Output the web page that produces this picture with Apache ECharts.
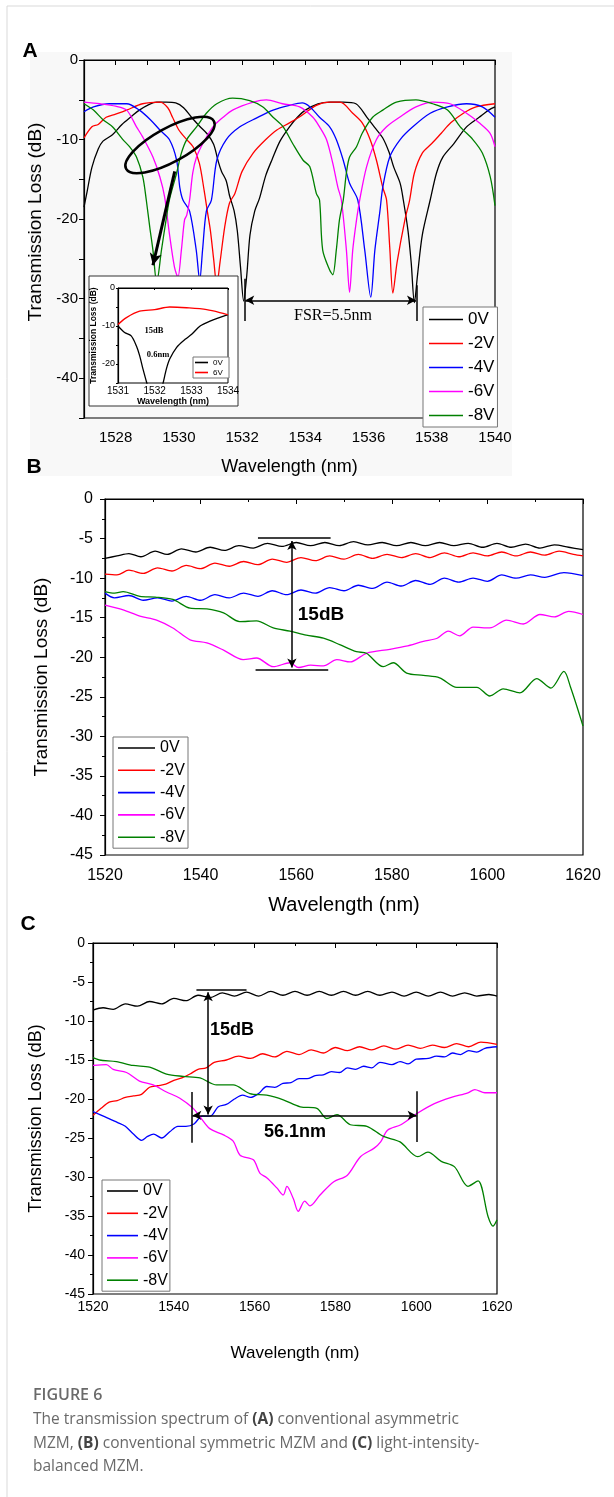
<!DOCTYPE html>
<html>
<head>
<meta charset="utf-8">
<script src="https://cdn.jsdelivr.net/npm/echarts@6/dist/echarts.min.js"></script>
<style>
  html, body { margin: 0; padding: 0; background: #fff; }
  #chart { width: 614px; height: 1497px; }
</style>
</head>
<body>
<div id="chart"></div>
<script>
// panel A: conventional asymmetric MZM, [wavelength nm, loss dB]
const aBlack = [[1527.0,-18.5],[1527.1,-16.5],[1527.25,-13.5],[1527.45,-11.2],[1527.6,-10.2],[1527.9,-9.4],[1528.2,-8.1],[1528.5,-7.1],[1528.75,-6.3],[1529.05,-5.6],[1529.3,-5.3],[1529.6,-5.3],[1529.9,-5.4],[1530.15,-6.0],[1530.4,-7.2],[1530.65,-8.3],[1530.9,-9.3],[1531.1,-10.6],[1531.25,-12.8],[1531.35,-14.0],[1531.5,-15.2],[1531.6,-17.0],[1531.75,-19.0],[1531.85,-21.5],[1531.95,-26.0],[1532.05,-30.3],[1532.15,-27.0],[1532.25,-22.0],[1532.4,-19.0],[1532.55,-17.4],[1532.75,-14.5],[1532.95,-12.5],[1533.2,-10.2],[1533.5,-8.4],[1533.75,-7.2],[1534.0,-6.3],[1534.4,-5.5],[1534.8,-5.3],[1535.2,-5.3],[1535.6,-5.5],[1535.95,-7.2],[1536.2,-8.5],[1536.45,-9.8],[1536.65,-11.6],[1536.8,-13.5],[1537.0,-15.5],[1537.1,-17.6],[1537.25,-21.5],[1537.35,-25.5],[1537.45,-30.5],[1537.55,-27.0],[1537.7,-22.0],[1537.95,-17.6],[1538.15,-14.2],[1538.35,-12.2],[1538.7,-10.5],[1539.1,-8.4],[1539.5,-7.2],[1539.8,-6.3],[1540.0,-5.9]];
const aRed = [[1527.0,-9.8],[1527.25,-8.4],[1527.45,-8.1],[1527.7,-7.2],[1528.0,-6.8],[1528.35,-6.3],[1528.85,-5.5],[1529.4,-5.3],[1529.65,-6.0],[1529.8,-7.2],[1530.0,-8.8],[1530.25,-10.0],[1530.45,-10.9],[1530.65,-13.0],[1530.8,-16.4],[1530.9,-19.0],[1531.0,-21.5],[1531.1,-25.0],[1531.2,-28.3],[1531.3,-25.5],[1531.45,-21.0],[1531.6,-18.0],[1531.77,-16.8],[1532.0,-14.0],[1532.35,-11.7],[1532.75,-10.0],[1533.1,-8.8],[1533.5,-7.9],[1533.8,-7.2],[1534.35,-5.7],[1534.75,-5.3],[1535.1,-5.3],[1535.5,-6.7],[1535.8,-7.9],[1536.05,-10.0],[1536.25,-12.6],[1536.45,-16.0],[1536.57,-17.6],[1536.67,-23.5],[1536.77,-29.3],[1536.9,-25.5],[1537.15,-20.1],[1537.3,-17.6],[1537.45,-14.2],[1537.7,-11.7],[1538.0,-10.5],[1538.3,-9.2],[1538.6,-7.9],[1539.0,-6.7],[1539.4,-5.9],[1540.0,-5.5]];
const aBlue = [[1527.0,-6.5],[1527.3,-5.9],[1527.8,-5.5],[1528.35,-5.5],[1528.75,-6.3],[1529.1,-7.5],[1529.4,-8.8],[1529.7,-10.0],[1529.93,-12.6],[1530.03,-16.0],[1530.13,-17.6],[1530.34,-19.0],[1530.55,-23.9],[1530.66,-27.7],[1530.75,-23.9],[1530.87,-19.0],[1531.03,-17.6],[1531.2,-12.6],[1531.5,-10.0],[1531.93,-8.4],[1532.45,-7.3],[1532.98,-6.3],[1533.5,-5.7],[1533.9,-5.4],[1534.15,-5.9],[1534.45,-7.2],[1534.77,-8.4],[1534.98,-10.0],[1535.2,-12.6],[1535.4,-15.5],[1535.66,-17.6],[1535.88,-23.9],[1536.07,-29.8],[1536.2,-23.9],[1536.36,-19.0],[1536.45,-16.0],[1536.67,-12.2],[1537.0,-10.0],[1537.4,-8.4],[1537.95,-6.7],[1538.5,-5.9],[1539.1,-5.5],[1539.6,-5.9],[1540.0,-7.2]];
const aMagenta = [[1527.0,-5.3],[1527.5,-5.5],[1528.0,-5.8],[1528.35,-6.3],[1528.66,-8.4],[1528.86,-9.7],[1529.18,-12.2],[1529.4,-14.7],[1529.55,-17.2],[1529.7,-21.8],[1529.86,-26.0],[1529.97,-27.3],[1530.08,-23.9],[1530.18,-20.1],[1530.25,-19.5],[1530.34,-17.6],[1530.44,-14.2],[1530.56,-12.2],[1530.76,-10.5],[1531.08,-8.4],[1531.4,-7.2],[1531.7,-6.3],[1532.35,-5.3],[1532.77,-5.0],[1533.28,-5.5],[1533.82,-5.9],[1534.24,-7.2],[1534.45,-8.4],[1534.67,-10.0],[1534.87,-13.0],[1535.03,-16.0],[1535.14,-17.6],[1535.3,-23.9],[1535.4,-29.2],[1535.5,-23.9],[1535.62,-20.1],[1535.72,-17.6],[1535.94,-13.4],[1536.25,-10.0],[1536.57,-8.4],[1536.98,-7.2],[1537.5,-5.9],[1538.03,-5.3],[1538.58,-5.5],[1539.1,-6.7],[1539.5,-7.9],[1539.84,-9.2],[1540.0,-10.9]];
const aGreen = [[1527.0,-5.5],[1527.3,-6.3],[1527.6,-7.5],[1527.9,-8.4],[1528.23,-10.0],[1528.44,-10.9],[1528.66,-12.2],[1528.86,-14.7],[1528.97,-17.6],[1529.08,-21.0],[1529.18,-23.9],[1529.3,-28.0],[1529.45,-23.9],[1529.58,-20.5],[1529.7,-17.6],[1529.93,-14.2],[1530.08,-11.7],[1530.25,-10.0],[1530.56,-8.4],[1530.87,-6.7],[1531.2,-5.5],[1531.7,-4.8],[1532.24,-5.1],[1532.66,-5.9],[1532.98,-7.2],[1533.3,-8.4],[1533.6,-10.5],[1533.93,-12.6],[1534.14,-13.4],[1534.35,-16.8],[1534.45,-17.6],[1534.55,-23.9],[1534.77,-26.4],[1534.87,-27.0],[1534.98,-23.9],[1535.08,-20.1],[1535.2,-17.6],[1535.3,-14.2],[1535.4,-12.2],[1535.62,-10.9],[1535.8,-9.2],[1536.13,-7.2],[1536.45,-6.3],[1536.88,-5.3],[1537.5,-5.0],[1538.03,-5.5],[1538.5,-6.3],[1538.9,-8.4],[1539.3,-10.0],[1539.6,-11.7],[1539.85,-14.7],[1540.0,-18.3]];

// inset of panel A
const insetBlack = [[1531.0,-10.0],[1531.18,-11.7],[1531.36,-12.6],[1531.5,-15.2],[1531.59,-17.8],[1531.68,-21.3],[1531.78,-24.8],[1531.9,-29.0],[1532.05,-31.0],[1532.15,-28.0],[1532.23,-25.0],[1532.32,-21.3],[1532.41,-18.7],[1532.6,-15.6],[1532.83,-13.5],[1533.01,-12.2],[1533.24,-10.0],[1533.51,-8.7],[1534.0,-7.0]];
const insetRed = [[1531.0,-9.6],[1531.23,-7.8],[1531.59,-6.1],[1532.0,-5.7],[1532.41,-5.0],[1532.87,-5.2],[1533.42,-5.7],[1534.0,-7.0]];

// panel B: conventional symmetric MZM
const bBlack = [[1520,-7.5],[1522.5,-7.2],[1525,-6.9],[1527.5,-7.3],[1530.5,-6.6],[1533,-7.0],[1536,-6.3],[1539,-6.7],[1542,-6.1],[1545,-6.5],[1548,-5.9],[1551,-6.2],[1554,-5.6],[1557,-6.0],[1560,-5.5],[1563,-5.9],[1566,-5.5],[1569,-5.9],[1572,-5.4],[1575,-5.8],[1578,-5.5],[1581,-5.9],[1584,-5.5],[1587,-5.9],[1590,-5.5],[1593,-5.9],[1596,-5.6],[1599,-6.1],[1602,-5.6],[1605,-6.1],[1608,-5.7],[1611,-6.2],[1614,-5.8],[1617,-6.1],[1620,-6.4]];
const bRed = [[1520,-9.5],[1522.5,-9.6],[1525,-9.0],[1528,-9.4],[1531,-8.7],[1534,-9.1],[1537,-8.4],[1540,-8.8],[1543,-8.1],[1546,-8.5],[1549,-7.9],[1552,-8.3],[1555,-7.6],[1558,-8.0],[1561,-7.4],[1564,-7.8],[1567,-7.2],[1570,-7.6],[1573,-7.0],[1576,-7.5],[1579,-7.0],[1582,-7.4],[1585,-6.9],[1588,-7.4],[1591,-6.8],[1594,-7.3],[1597,-6.8],[1600,-7.2],[1603,-6.7],[1606,-7.2],[1609,-6.7],[1612,-7.1],[1615,-6.6],[1618,-7.0],[1620,-7.2]];
const bBlue = [[1520,-11.9],[1522,-12.5],[1525,-12.2],[1528,-12.8],[1531,-12.5],[1534,-12.9],[1537,-12.3],[1540,-12.8],[1543,-12.1],[1546,-12.5],[1549,-11.9],[1552,-12.3],[1555,-11.6],[1558,-12.1],[1561,-11.5],[1564,-11.9],[1567,-11.2],[1570,-11.6],[1573,-10.9],[1576,-11.3],[1579,-10.5],[1582,-11.0],[1585,-10.3],[1588,-10.8],[1591,-10.0],[1594,-10.5],[1597,-10.0],[1600,-10.4],[1603,-9.6],[1606,-10.0],[1609,-9.6],[1612,-9.9],[1616,-9.3],[1620,-9.7]];
const bMagenta = [[1520,-13.4],[1523.8,-14.0],[1527.3,-14.8],[1530.8,-15.3],[1534.2,-16.3],[1537.8,-17.8],[1541.3,-18.2],[1544.8,-19.1],[1548.9,-20.3],[1551.7,-20.1],[1555.2,-21.2],[1558.7,-20.7],[1560.5,-21.3],[1563,-21.0],[1565.7,-21.1],[1568.5,-20.3],[1571.3,-20.6],[1574.7,-19.5],[1579.6,-19.0],[1583,-18.6],[1586.6,-18.0],[1589.5,-17.6],[1591.8,-16.7],[1594.2,-17.3],[1597.0,-16.2],[1600.5,-16.3],[1604,-15.3],[1607.5,-15.8],[1611,-14.6],[1614,-14.9],[1617,-14.2],[1620,-14.6]];
const bGreen = [[1520,-11.7],[1522,-11.9],[1523.8,-11.7],[1527.3,-12.3],[1530.5,-12.4],[1534.2,-12.7],[1537.8,-13.8],[1541.3,-13.9],[1544.8,-14.4],[1548.2,-15.5],[1551.7,-15.4],[1555.2,-16.3],[1558.7,-16.7],[1562.1,-17.2],[1565.7,-17.6],[1569.1,-18.4],[1572.6,-19.3],[1574.7,-19.5],[1578.2,-21.2],[1580.3,-20.7],[1583.1,-22.0],[1586.6,-22.3],[1590,-22.6],[1593.6,-23.8],[1597.8,-23.8],[1600.5,-24.9],[1603.3,-24.0],[1606.8,-24.5],[1610.3,-22.7],[1613.3,-23.9],[1616,-21.8],[1617.4,-23.8],[1620,-28.7]];

// panel C: light-intensity-balanced MZM
const cBlack = [[1520,-8.6],[1522.5,-8.3],[1525,-8.5],[1528,-7.8],[1531,-8.1],[1534,-7.5],[1537,-7.8],[1540,-7.1],[1543,-7.4],[1546,-6.7],[1549,-7.0],[1552,-6.4],[1555,-6.8],[1558,-6.3],[1561,-6.8],[1564,-6.2],[1567,-6.7],[1570,-6.2],[1573,-6.7],[1576,-6.2],[1579,-6.7],[1582,-6.2],[1585,-6.7],[1588,-6.2],[1591,-6.7],[1594,-6.3],[1597,-6.8],[1600,-6.3],[1603,-6.8],[1606,-6.3],[1609,-6.8],[1612,-6.4],[1615,-6.8],[1618,-6.6],[1620,-6.8]];
const cRed = [[1520,-22.1],[1522,-21.2],[1524,-20.4],[1526,-20.2],[1528,-19.8],[1530,-19.6],[1532,-19.4],[1534,-18.5],[1536,-18.3],[1538,-18.1],[1540,-17.6],[1542,-17.3],[1544,-16.8],[1546,-16.2],[1548,-16.0],[1550,-15.3],[1553,-15.0],[1556,-14.5],[1559,-14.8],[1562,-14.2],[1565,-14.6],[1568,-13.9],[1571,-14.3],[1574,-13.7],[1577,-14.1],[1580,-13.4],[1583,-13.8],[1586,-13.3],[1589,-13.7],[1592,-13.2],[1595,-13.6],[1598,-13.1],[1601,-13.5],[1604,-13.1],[1607,-13.4],[1610,-12.9],[1613,-13.3],[1616,-12.7],[1620,-13.0]];
const cBlue = [[1520,-21.6],[1523,-22.3],[1526,-23.0],[1528,-23.5],[1530,-24.5],[1532,-25.3],[1533.5,-24.8],[1535,-24.5],[1537,-25.0],[1539,-24.2],[1541,-23.5],[1543,-23.5],[1545,-23.2],[1547,-22.2],[1549,-22.2],[1551,-21.0],[1553,-20.7],[1555,-20.0],[1557,-19.5],[1559,-19.8],[1561,-19.3],[1563,-18.4],[1565,-18.5],[1567,-18.0],[1569,-17.9],[1571,-17.4],[1573,-17.4],[1575,-17.0],[1577,-16.9],[1579,-16.5],[1581,-16.6],[1583,-16.0],[1585,-16.2],[1587,-15.8],[1589,-16.0],[1591,-15.3],[1594,-15.6],[1596,-15.2],[1598,-15.5],[1600,-14.9],[1603,-14.8],[1605,-14.5],[1607,-14.6],[1609,-14.1],[1611,-14.3],[1613,-13.8],[1615,-14.0],[1617,-13.5],[1620,-13.3]];
const cMagenta = [[1520,-15.7],[1523.3,-15.6],[1525,-16.2],[1528.3,-16.6],[1531.5,-17.7],[1534.9,-18.2],[1538.2,-19.1],[1541.5,-19.9],[1544.8,-21.2],[1546.5,-22.3],[1548.9,-23.8],[1552.3,-24.6],[1554.7,-25.4],[1556.4,-27.2],[1559.7,-27.8],[1561.3,-29.5],[1563,-30.1],[1565.5,-31.4],[1567.1,-32.3],[1568,-31.2],[1569.6,-32.8],[1570.8,-34.4],[1572.4,-33.1],[1573.7,-33.7],[1576.2,-32.3],[1579.6,-30.6],[1582.9,-29.8],[1586.2,-27.4],[1589.6,-26.3],[1591.2,-25.5],[1592.9,-24.0],[1596.2,-23.3],[1600.4,-21.8],[1604.5,-20.6],[1608.7,-19.8],[1612.8,-19.2],[1614.5,-18.8],[1617,-19.2],[1620,-19.2]];
const cGreen = [[1520,-14.7],[1521.6,-15.0],[1525.8,-15.2],[1529.9,-15.7],[1534,-15.9],[1538.2,-16.8],[1542.3,-17.1],[1546.5,-17.3],[1550.6,-18.2],[1554.7,-18.2],[1558.8,-19.3],[1563,-19.5],[1567.1,-20.1],[1571.3,-21.0],[1575.4,-21.2],[1577.9,-22.5],[1580.4,-22.0],[1583.7,-23.3],[1587.8,-23.5],[1591.9,-24.8],[1596,-25.5],[1600.4,-27.4],[1602.9,-26.8],[1606.2,-28.0],[1609.5,-28.7],[1612.8,-31.2],[1615.3,-30.5],[1617.8,-35.1],[1619,-36.3],[1620,-35.5]];

const voltages = ['0V', '-2V', '-4V', '-6V', '-8V'];
const colors = ['#000000', '#ff0000', '#0000ff', '#ff00ff', '#008000'];

const FONT = '"Liberation Sans", Arial, sans-serif';
const chart = echarts.init(document.getElementById('chart'));

function curve(name, data, color, idx, z) {
  return {
    name: name, type: 'line', data: data, xAxisIndex: idx, yAxisIndex: idx,
    symbol: 'none', smooth: 0.3, z: z || 2, silent: true, animation: false,
    lineStyle: { color: color, width: 1.3 }, itemStyle: { color: color }
  };
}

function ann(lines, size) {
  return {
    silent: true, animation: false, symbol: ['none', 'none'], symbolSize: size || [7, 9],
    label: { show: false }, emphasis: { disabled: true },
    lineStyle: { color: '#000', width: 1.5, type: 'solid' },
    data: lines
  };
}
function arrow2(x1, y1, x2, y2) {
  return [{ coord: [x1, y1], symbol: 'arrow' }, { coord: [x2, y2], symbol: 'arrow' }];
}
function bar(x1, y1, x2, y2) {
  return [{ coord: [x1, y1] }, { coord: [x2, y2] }];
}

const plain = v => String(v);
const tens = v => (v % 10 === 0 ? String(v) : '');
const evens = v => (v % 2 === 0 ? String(v) : '');

function xAxisOf(idx, min, max, interval, fs, margin, nameSize, nameGap, fmt) {
  return {
    gridIndex: idx, type: 'value', min: min, max: max, interval: interval,
    axisLine: { lineStyle: { color: '#000', width: 1.2 } },
    axisTick: { length: 5, lineStyle: { color: '#000' } },
    axisLabel: { color: '#000', fontSize: fs, fontFamily: FONT, margin: margin, formatter: fmt || plain },
    splitLine: { show: false },
    name: 'Wavelength (nm)', nameLocation: 'middle', nameGap: nameGap,
    nameTextStyle: { color: '#000', fontSize: nameSize, fontFamily: FONT }
  };
}
function yAxisOf(idx, min, fs, margin, nameSize, nameGap, fmt) {
  return {
    gridIndex: idx, type: 'value', min: min, max: 0, interval: 5,
    axisLine: { lineStyle: { color: '#000', width: 1.2 } },
    axisTick: { length: 5, lineStyle: { color: '#000' } },
    axisLabel: { color: '#000', fontSize: fs, fontFamily: FONT, margin: margin, formatter: fmt || plain },
    splitLine: { show: false },
    name: 'Transmission Loss (dB)', nameLocation: 'middle', nameGap: nameGap,
    nameTextStyle: { color: '#000', fontSize: nameSize, fontFamily: FONT }
  };
}

const xA = xAxisOf(0, 1527, 1540, 1, 15, 12, 18, 40, evens);
const yA = yAxisOf(0, -45, 15, 6, 19, 38, tens);
yA.nameTextStyle.padding = [0, 0, 0, 34];

const xIn = xAxisOf(1, 1531, 1534, 1, 10, 3, 9, 13);
xIn.z = 60; xIn.axisTick.length = 2;
xIn.nameTextStyle.fontWeight = 'bold';
const yIn = yAxisOf(1, -25, 9, 3, 8.5, 15, tens);
yIn.z = 60; yIn.axisTick.length = 2;
yIn.nameTextStyle.fontWeight = 'bold';

const minor = { show: true, splitNumber: 2, length: 3, lineStyle: { color: '#000' } };
const xB = xAxisOf(2, 1520, 1620, 20, 16, 13, 20, 40);
xB.minorTick = minor;
const yB = yAxisOf(2, -45, 16, 12, 19, 54);
yB.minorTick = minor;

const xC = xAxisOf(3, 1520, 1620, 20, 14, 6, 17, 51);
xC.minorTick = minor;
const yC = yAxisOf(3, -45, 14, 8, 18, 48);
yC.minorTick = minor;

const series = [];
[aBlack, aRed, aBlue, aMagenta, aGreen].forEach((d, i) => series.push(curve(voltages[i], d, colors[i], 0)));
[bBlack, bRed, bBlue, bMagenta, bGreen].forEach((d, i) => series.push(curve(voltages[i], d, colors[i], 2)));
[cBlack, cRed, cBlue, cMagenta, cGreen].forEach((d, i) => series.push(curve(voltages[i], d, colors[i], 3)));
series.push(curve('0V', insetBlack, '#000000', 1, 60));
series.push(curve('6V', insetRed, '#ff0000', 1, 60));

// annotation arrows, in data coordinates
series[0].markLine = ann([
  arrow2(1532.1, -30.2, 1537.5, -30.2),
  bar(1532.08, -27.5, 1532.08, -32.8),
  bar(1537.52, -28.3, 1537.52, -32.8),
  [{ coord: [1529.87, -14.0], lineStyle: { width: 3 } }, { coord: [1529.18, -25.8], symbol: 'arrow', symbolSize: [9, 12] }]
]);
series[5].markLine = ann([
  bar(1552, -4.9, 1567.2, -4.9),
  arrow2(1559.1, -5.3, 1559.1, -21.3),
  bar(1551.5, -21.6, 1566.7, -21.6)
]);
series[10].markLine = ann([
  bar(1545.6, -6.05, 1558, -6.05),
  arrow2(1548.5, -6.3, 1548.5, -22.0),
  arrow2(1544.6, -22.1, 1600.1, -22.1),
  bar(1544.5, -19.1, 1544.5, -25.6),
  bar(1600.1, -19.0, 1600.1, -25.5)
]);
series[15].markLine = ann([
  arrow2(1531.76, -6.1, 1531.76, -20.9),
  bar(1531.58, -6.1, 1531.94, -6.1),
  bar(1531.58, -21.0, 1531.94, -21.0),
  arrow2(1532.42, -5.0, 1532.42, -20.3),
  bar(1532.25, -5.0, 1532.6, -5.0),
  bar(1532.24, -20.4, 1532.6, -20.4),
  arrow2(1531.78, -15.6, 1532.4, -15.6)
], [4, 5]);
series[15].markLine.lineStyle.width = 1;

function legendOf(data, left, top, fs, iw, rowH, gap, tw, pad, z) {
  return {
    data: data, orient: 'vertical', left: left, top: top, z: z || 4,
    icon: 'rect', itemWidth: iw, itemHeight: 1.6, itemGap: gap, padding: pad,
    borderColor: '#777', borderWidth: 1, backgroundColor: '#fff',
    selectedMode: false,
    textStyle: { color: '#000', fontSize: fs, fontFamily: FONT, width: tw, align: 'right', lineHeight: rowH, height: rowH }
  };
}

function txt(x, y, text, font, extra) {
  return Object.assign({
    type: 'text', x: x, y: y, silent: true,
    style: { text: text, font: font, fill: '#000', align: 'center', verticalAlign: 'middle', textAlign: 'center', textVerticalAlign: 'middle' }
  }, extra || {});
}

const capFont = '15.5px "Open Sans", sans-serif';
const capRich = { b: { fontFamily: '"Open Sans", sans-serif', fontSize: 15.5, fontWeight: 'bold', fill: '#444' } };
function capLine(y, text) {
  return {
    type: 'text', x: 33, y: y, silent: true,
    style: { text: text, font: capFont, fill: '#6a6a6a', align: 'left', verticalAlign: 'middle', textAlign: 'left', textVerticalAlign: 'middle', rich: capRich }
  };
}

const option = {
  animation: false,
  grid: [
    { left: 84, top: 60, width: 411, height: 358, show: true, borderColor: '#000', borderWidth: 1.2, backgroundColor: 'transparent' },
    { left: 118, top: 288, width: 110, height: 95, show: true, borderColor: '#000', borderWidth: 1, backgroundColor: 'transparent', z: 60 },
    { left: 105, top: 499, width: 478, height: 356, show: true, borderColor: '#000', borderWidth: 1.2, backgroundColor: 'transparent' },
    { left: 93, top: 943, width: 404, height: 351, show: true, borderColor: '#000', borderWidth: 1.2, backgroundColor: 'transparent' }
  ],
  xAxis: [xA, xIn, xB, xC],
  yAxis: [yA, yIn, yB, yC],
  legend: [
    legendOf(voltages, 423, 307, 17, 34, 14, 7, 24, [4, 3, 3, 6]),
    legendOf(voltages, 113, 737, 16, 37, 14, 6.3, 25, [3, 3, 3, 5]),
    legendOf(voltages, 102, 1180, 16, 31, 14, 6.3, 24, [3, 2, 3, 5]),
    legendOf(['0V', '6V'], 193, 357, 8, 13, 9, 1, 14, [1, 2, 1, 2], 60)
  ],
  series: series,
  graphic: [
    { type: 'line', shape: { x1: 7, y1: 6, x2: 7, y2: 1497 }, style: { stroke: '#d9d9d9', lineWidth: 1 }, silent: true },
    { type: 'line', shape: { x1: 7, y1: 6, x2: 614, y2: 6 }, style: { stroke: '#d9d9d9', lineWidth: 1 }, silent: true },
    { type: 'rect', shape: { x: 30, y: 52, width: 482, height: 424 }, style: { fill: '#f8f8f8' }, z: -10, silent: true },
    { type: 'rect', shape: { x: 89, y: 276, width: 149, height: 130 }, style: { fill: '#fff', stroke: '#333', lineWidth: 1 }, z: 50, silent: true },
    { type: 'ellipse', x: 170, y: 145, rotation: 0.5, shape: { cx: 0, cy: 0, rx: 50, ry: 17 }, style: { fill: 'none', stroke: '#000', lineWidth: 2.5 }, z: 10, silent: true },
    txt(30, 51, 'A', 'bold 21px "Liberation Sans"'),
    txt(34, 467, 'B', 'bold 21px "Liberation Sans"'),
    txt(28, 924, 'C', 'bold 21px "Liberation Sans"'),
    txt(333, 316, 'FSR=5.5nm', '16px "Liberation Serif"', { z: 10 }),
    txt(154, 331, '15dB', 'bold 8.5px "Liberation Serif"', { z: 70 }),
    txt(158, 355, '0.6nm', 'bold 8.5px "Liberation Serif"', { z: 70 }),
    txt(321, 615, '15dB', 'bold 19px "Liberation Sans"', { z: 10 }),
    txt(232, 1030, '15dB', 'bold 18px "Liberation Sans"', { z: 10 }),
    txt(295, 1132, '56.1nm', 'bold 18px "Liberation Sans"', { z: 10 }),
    {
      type: 'text', x: 33, y: 1395, silent: true,
      style: { text: 'FIGURE 6', font: '600 16px "Open Sans", sans-serif', fill: '#6a6a6a', align: 'left', verticalAlign: 'middle', textAlign: 'left', textVerticalAlign: 'middle' }
    },
    capLine(1420, 'The transmission spectrum of {b|(A)} conventional asymmetric'),
    capLine(1444, 'MZM, {b|(B)} conventional symmetric MZM and {b|(C)} light-intensity-'),
    capLine(1467, 'balanced MZM.')
  ]
};

chart.setOption(option);
</script>
</body>
</html>
